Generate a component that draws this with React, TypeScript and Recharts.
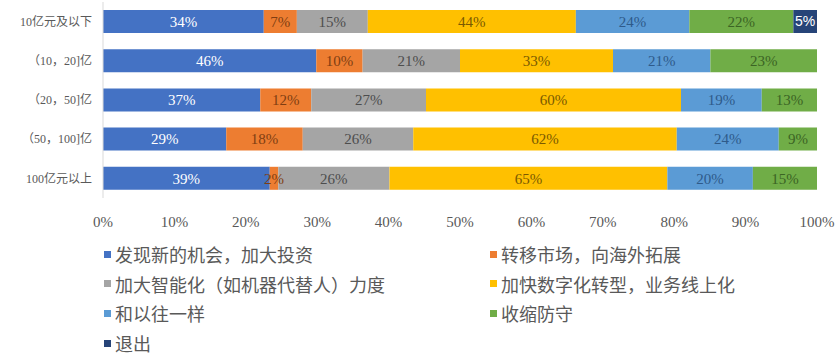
import React from 'react';
import { BarChart, Bar, XAxis, YAxis, LabelList, Legend } from 'recharts';

const categories = ['10亿元及以下', '（10，20]亿', '（20，50]亿', '（50，100]亿', '100亿元以上'];
const seriesNames = [
  '发现新的机会，加大投资',
  '转移市场，向海外拓展',
  '加大智能化（如机器代替人）力度',
  '加快数字化转型，业务线上化',
  '和以往一样',
  '收缩防守',
  '退出',
];
const s1 = [34, 46, 37, 29, 39];
const s2 = [7, 10, 12, 18, 2];
const s3 = [15, 21, 27, 26, 26];
const s4 = [44, 33, 60, 62, 65];
const s5 = [24, 21, 19, 24, 20];
const s6 = [22, 23, 13, 9, 15];
const s7 = [5, 0, 0, 0, 0];
const xTicks = [0, 0.1, 0.2, 0.3, 0.4, 0.5, 0.6, 0.7, 0.8, 0.9, 1];

const seriesValues = [s1, s2, s3, s4, s5, s6, s7];
const colors = ['#4472C4', '#ED7D31', '#A5A5A5', '#FFC000', '#5B9BD5', '#70AD47', '#264478'];
const labelColors = ['#ffffff', '#7f3d12', '#4d4d4d', '#7a5a00', '#2e5a8a', '#3b6424', '#ffffff'];

const data = categories.map((c, i) => {
  const row: Record<string, any> = { name: c };
  seriesValues.forEach((arr, k) => {
    row['s' + (k + 1)] = arr[i];
  });
  return row;
});

const serif = '"Liberation Serif", "Noto Sans CJK SC", serif';

const LegendContent = () => {
  const order = [0, 1, 2, 3, 4, 5, 6];
  return (
    <div style={{ position: 'relative', width: 840, height: 120, fontFamily: '"Noto Sans CJK SC", sans-serif' }}>
      {order.map((k) => {
        const col = k % 2;
        const row = Math.floor(k / 2);
        return (
          <div
            key={k}
            style={{
              position: 'absolute',
              left: col === 0 ? 104 : 490,
              top: row * 29.7,
              height: 30,
              display: 'flex',
              alignItems: 'center',
              whiteSpace: 'nowrap',
              color: '#595959',
              fontSize: 18,
            }}
          >
            <span style={{ display: 'inline-block', width: 7, height: 7, background: colors[k], marginRight: 4 }} />
            <span>{seriesNames[k]}</span>
          </div>
        );
      })}
    </div>
  );
};

export default function App() {
  return (
    <div style={{ position: 'absolute', left: 0, top: 0, width: 840, height: 358, background: '#fff' }}>
      <BarChart
        width={840}
        height={358}
        data={data}
        layout="vertical"
        stackOffset="expand"
        margin={{ top: 2, right: 23, left: 0, bottom: 10 }}
      >
        <XAxis
          type="number"
          domain={[0, 1]}
          ticks={xTicks}
          tickFormatter={(v: number) => Math.round(v * 100) + '%'}
          axisLine={false}
          tickLine={false}
          tickMargin={12}
          tick={{ fill: '#595959', fontSize: 15, fontFamily: serif }}
          interval={0}
        />
        <YAxis
          type="category"
          dataKey="name"
          width={103}
          axisLine={{ stroke: '#d9d9d9' }}
          tickLine={false}
          tickMargin={5}
          tick={{ fill: '#595959', fontSize: 12, fontFamily: serif }}
          interval={0}
        />
        <Legend
          content={<LegendContent />}
          wrapperStyle={{ position: 'absolute', left: 0, top: 239, width: 840, height: 120 }}
        />
        {seriesValues.map((_, k) => (
          <Bar
            key={k}
            dataKey={'s' + (k + 1)}
            name={seriesNames[k]}
            stackId="a"
            fill={colors[k]}
            barSize={23}
            isAnimationActive={false}
          >
            <LabelList
              dataKey={'s' + (k + 1)}
              position="center"
              formatter={(v: any) => (v ? v + '%' : '')}
              fill={labelColors[k]}
              style={{
                fontSize: k === 6 ? 14 : 15,
                fontFamily: k === 6 ? '"Liberation Sans", sans-serif' : serif,
                fill: labelColors[k],
              }}
            />
          </Bar>
        ))}
      </BarChart>
    </div>
  );
}
